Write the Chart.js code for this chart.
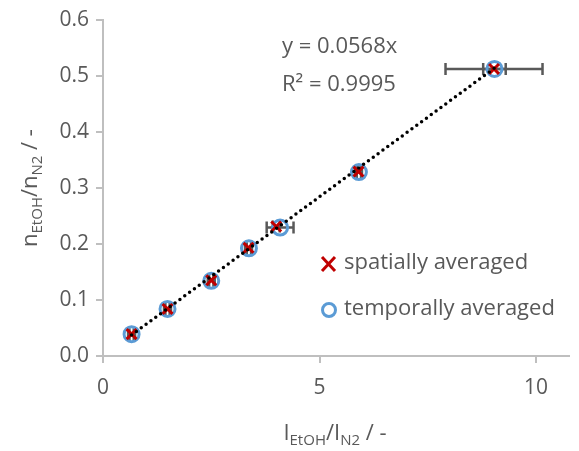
<!DOCTYPE html>
<html>
<head>
<meta charset="utf-8">
<script src="https://cdn.jsdelivr.net/npm/chart.js@4"></script>
<style>
    body { margin: 0; background: #fff; }
    canvas { display: block; }
</style>
</head>
<body>
<canvas id="calibChart" width="579" height="451"></canvas>
<script>
// data
const xSpatial = [0.66, 1.49, 2.50, 3.36, 4.00, 5.90, 9.03];
const ySpatial = [0.039, 0.084, 0.135, 0.193, 0.231, 0.329, 0.512];
const xErrSpatial = [0.08, 0.08, 0.08, 0.08, 0.08, 0.08, 1.12];

const xTemporal = [0.66, 1.49, 2.50, 3.37, 4.09, 5.91, 9.04];
const yTemporal = [0.039, 0.084, 0.134, 0.192, 0.229, 0.328, 0.512];
const xErrTemporal = [0.05, 0.05, 0.05, 0.05, 0.31, 0.05, 0.26];

const trendX = [0.66, 9.04];
const trendY = [0.0375, 0.5135];

const xTicks = [0, 5, 10];
const yTicks = [0, 0.1, 0.2, 0.3, 0.4, 0.5, 0.6];

const equationLines = ["y = 0.0568x", "R² = 0.9995"];
const seriesNames = ["spatially averaged", "temporally averaged"];

const textColor = "#595959";
const axisColor = "#bfbfbf";
const fontName = "'Open Sans', Lato, sans-serif";

function toPoints(xs, ys) {
    return xs.map((x, i) => ({ x: x, y: ys[i] }));
}

// draws text with subscripts, parts = [[text, isSub], ...]
function drawRich(ctx, parts, x, y, size) {
    const subSize = Math.round(size * 0.68);
    let total = 0;
    parts.forEach(p => {
        ctx.font = (p[1] ? subSize : size) + "px " + fontName;
        total += ctx.measureText(p[0]).width;
    });
    let cx = x - total / 2;
    ctx.textAlign = "left";
    ctx.textBaseline = "alphabetic";
    parts.forEach(p => {
        ctx.font = (p[1] ? subSize : size) + "px " + fontName;
        ctx.fillText(p[0], cx, p[1] ? y + 5 : y);
        cx += ctx.measureText(p[0]).width;
    });
}

const errorBars = {
    id: "errorBars",
    beforeDatasetsDraw(chart) {
        const ctx = chart.ctx;
        const xs = chart.scales.x;
        const ys = chart.scales.y;
        const sets = [[xSpatial, ySpatial, xErrSpatial], [xTemporal, yTemporal, xErrTemporal]];
        ctx.save();
        ctx.strokeStyle = textColor;
        ctx.lineWidth = 2.5;
        sets.forEach(s => {
            s[0].forEach((x, i) => {
                const py = ys.getPixelForValue(s[1][i]);
                const x1 = xs.getPixelForValue(x - s[2][i]);
                const x2 = xs.getPixelForValue(x + s[2][i]);
                ctx.beginPath();
                ctx.moveTo(x1, py); ctx.lineTo(x2, py);
                ctx.moveTo(x1, py - 6); ctx.lineTo(x1, py + 6);
                ctx.moveTo(x2, py - 6); ctx.lineTo(x2, py + 6);
                ctx.stroke();
            });
        });
        ctx.restore();
    }
};

const annotations = {
    id: "annotations",
    afterDraw(chart) {
        const ctx = chart.ctx;
        ctx.save();
        ctx.fillStyle = textColor;
        ctx.font = "22px " + fontName;
        ctx.textAlign = "left";
        ctx.textBaseline = "middle";
        ctx.fillText(equationLines[0], 282, 47);
        ctx.fillText(equationLines[1], 282, 85);

        // legend
        ctx.fillText(seriesNames[0], 344, 263);
        ctx.fillText(seriesNames[1], 344, 309);
        ctx.strokeStyle = "#c00000";
        ctx.lineWidth = 3;
        ctx.beginPath();
        ctx.moveTo(322, 257); ctx.lineTo(335, 271);
        ctx.moveTo(335, 257); ctx.lineTo(322, 271);
        ctx.stroke();
        ctx.strokeStyle = "#5b9bd5";
        ctx.beginPath();
        ctx.arc(329, 310, 6.5, 0, Math.PI * 2);
        ctx.stroke();

        // axis titles
        drawRich(ctx, [["I", false], ["EtOH", true], ["/I", false], ["N2", true], [" / -", false]], 335, 440, 22);
        ctx.save();
        ctx.translate(37, 188);
        ctx.rotate(-Math.PI / 2);
        drawRich(ctx, [["n", false], ["EtOH", true], ["/n", false], ["N2", true], [" / -", false]], 0, 0, 22);
        ctx.restore();
        ctx.restore();
    }
};

new Chart(document.getElementById("calibChart"), {
    type: "scatter",
    data: {
        datasets: [
            {
                label: seriesNames[0],
                data: toPoints(xSpatial, ySpatial),
                pointStyle: "crossRot",
                pointRadius: 7,
                pointBorderWidth: 3,
                borderColor: "#c00000",
                backgroundColor: "#c00000",
                order: 1,
            },
            {
                label: seriesNames[1],
                data: toPoints(xTemporal, yTemporal),
                pointStyle: "circle",
                pointRadius: 7.5,
                pointBorderWidth: 3,
                borderColor: "#5b9bd5",
                backgroundColor: "rgba(0,0,0,0)",
                order: 2,
            },
            {
                label: "trend",
                type: "line",
                data: toPoints(trendX, trendY),
                borderColor: "#000",
                borderWidth: 3.5,
                borderDash: [0, 6],
                borderCapStyle: "round",
                pointRadius: 0,
                fill: false,
                order: 0,
            }
        ]
    },
    options: {
        responsive: false,
        animation: false,
        layout: { padding: { top: 19, right: 0, left: 0, bottom: 0 } },
        plugins: { legend: { display: false }, tooltip: { enabled: false } },
        scales: {
            x: {
                type: "linear", min: 0, max: 10.75,
                afterBuildTicks: s => { s.ticks = xTicks.map(v => ({ value: v })); },
                afterFit: s => { s.height = 95; },
                grid: { drawOnChartArea: false, tickLength: 7, color: axisColor, lineWidth: 2 },
                border: { color: axisColor, width: 2 },
                ticks: { color: textColor, font: { family: fontName, size: 21 }, padding: 12 }
            },
            y: {
                type: "linear", min: 0, max: 0.6,
                afterBuildTicks: s => { s.ticks = yTicks.map(v => ({ value: v })); },
                afterFit: s => { s.width = 103; },
                grid: { drawOnChartArea: false, tickLength: 7, color: axisColor, lineWidth: 2 },
                border: { color: axisColor, width: 2 },
                ticks: { color: textColor, font: { family: fontName, size: 21 }, padding: 7,
                    callback: v => v.toFixed(1) }
            }
        }
    },
    plugins: [errorBars, annotations]
});
</script>
</body>
</html>
